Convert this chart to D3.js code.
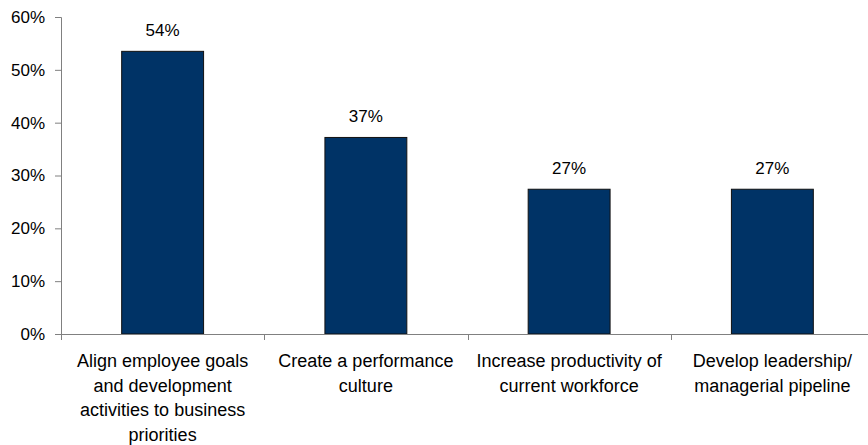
<!DOCTYPE html>
<html>
<head>
<meta charset="utf-8">
<script src="https://cdn.jsdelivr.net/npm/d3@7"></script>
<style>
  body { margin: 0; background: #fff; overflow: hidden; }
  svg text { font-family: "Liberation Sans", Arial, sans-serif; fill: #000; }
</style>
</head>
<body>
<svg id="chart"></svg>
<script>
const categories = [
  ["Align employee goals", "and development", "activities to business", "priorities"],
  ["Create a performance", "culture"],
  ["Increase productivity of", "current workforce"],
  ["Develop leadership/", "managerial pipeline"]
];
const values = [53.5, 37.2, 27.4, 27.4];
const valueLabels = ["54%", "37%", "27%", "27%"];
const yTicks = [0, 10, 20, 30, 40, 50, 60];

// the plot area runs a little past the right edge of the picture (as in the original)
const margin = { top: 17, left: 61 },
  width = 813,
  height = 317;

const svg = d3
  .select("#chart")
  .attr("width", 868)
  .attr("height", 445)
  .append("g")
  .attr("transform", `translate(${margin.left},${margin.top})`);

const idx = categories.map((d, i) => i);

const x = d3
  .scaleBand()
  .domain(idx)
  .range([0, width])
  .paddingInner(0.597)
  .paddingOuter(0.2985);
const y = d3.scaleLinear().domain([0, 60]).range([height, 0]);

// bars
svg
  .selectAll("rect.bar")
  .data(values)
  .enter()
  .append("rect")
  .attr("class", "bar")
  .attr("x", (d, i) => x(i))
  .attr("y", (d) => y(d))
  .attr("width", x.bandwidth())
  .attr("height", (d) => height - y(d))
  .style("fill", "#003366")
  .style("stroke", "#111")
  .style("stroke-width", 1);

// value labels
svg
  .selectAll("text.val")
  .data(values)
  .enter()
  .append("text")
  .attr("class", "val")
  .attr("x", (d, i) => x(i) + x.bandwidth() / 2)
  .attr("y", (d) => y(d) - 15)
  .attr("text-anchor", "middle")
  .attr("font-size", "17px")
  .text((d, i) => valueLabels[i]);

// y axis
const yAxis = svg
  .append("g")
  .call(
    d3.axisLeft(y)
      .tickValues(yTicks)
      .tickSize(6)
      .tickPadding(10)
      .tickFormat((d) => d + "%")
  );
yAxis.selectAll("line, path").attr("stroke", "#808080");
yAxis.select(".domain").attr("d", `M-6,0.5H0.5V${height}`);
yAxis.selectAll("text").attr("font-size", "17px").attr("font-family", "Liberation Sans, Arial, sans-serif");

// x axis: line with ticks at category boundaries
const xg = svg.append("g").attr("transform", `translate(0,${height})`);
xg.append("line")
  .attr("x1", 0)
  .attr("x2", width)
  .attr("y1", 0.5)
  .attr("y2", 0.5)
  .attr("stroke", "#808080");

const step = x.step();
const bounds = d3.range(categories.length + 1).map((i) => x(0) - x.paddingOuter() * step + i * step);
xg.selectAll("line.tick")
  .data(bounds)
  .enter()
  .append("line")
  .attr("class", "tick")
  .attr("x1", (d) => Math.round(d) + 0.5)
  .attr("x2", (d) => Math.round(d) + 0.5)
  .attr("y1", 0)
  .attr("y2", 6)
  .attr("stroke", "#808080");

// category labels
const labels = xg
  .selectAll("text.cat")
  .data(categories)
  .enter()
  .append("text")
  .attr("class", "cat")
  .attr("text-anchor", "middle")
  .attr("font-size", "18px")
  .attr("transform", (d, i) => `translate(${x(i) + x.bandwidth() / 2},33)`);

labels
  .selectAll("tspan")
  .data((d) => d)
  .enter()
  .append("tspan")
  .attr("x", 0)
  .attr("y", (d, j) => j * 24.5)
  .text((d) => d);
</script>
</body>
</html>
